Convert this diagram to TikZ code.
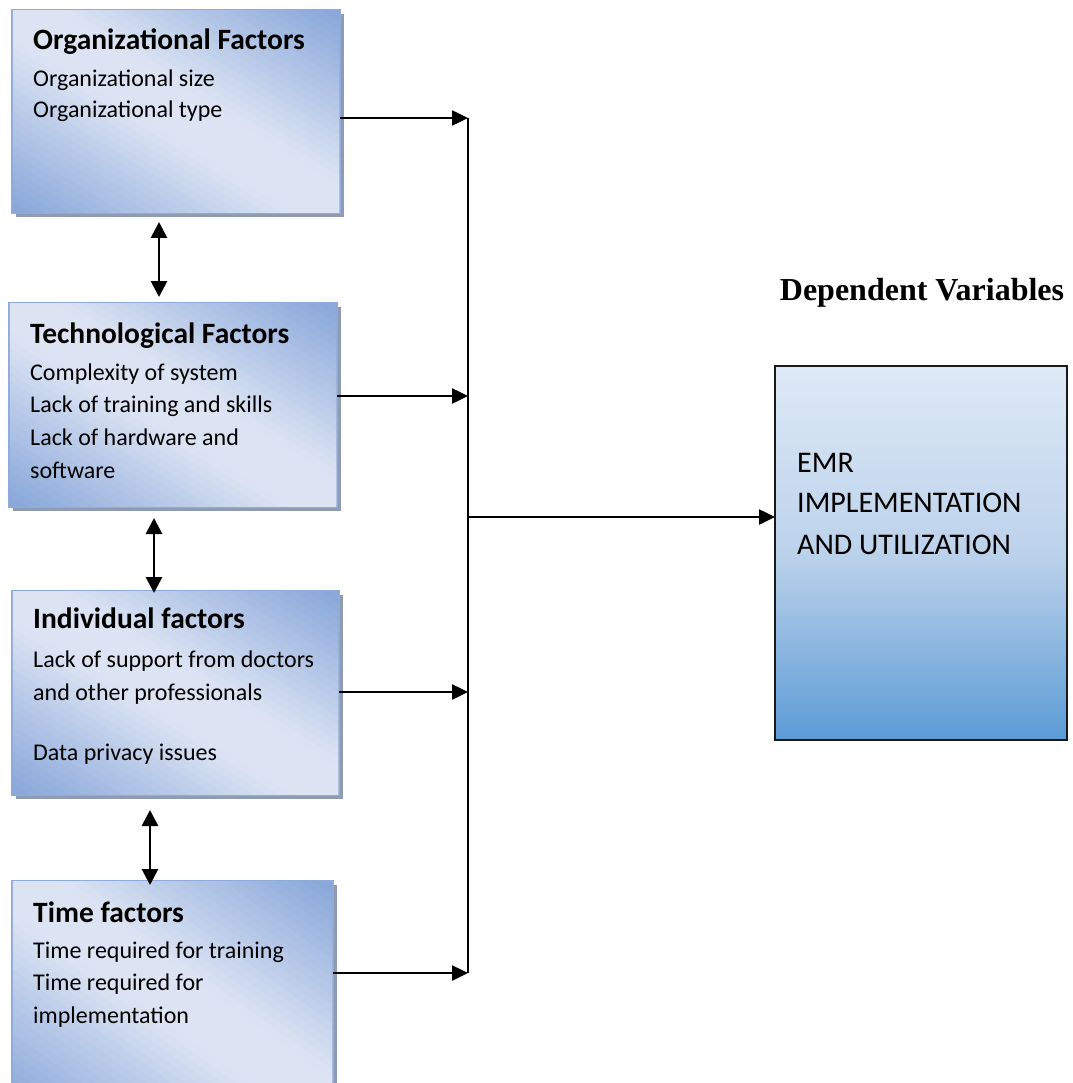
\documentclass[tikz,border=0pt]{standalone}
\usepackage{fontspec}
\setmainfont{Carlito}
\newfontfamily\titlefont{Liberation Serif}
\usetikzlibrary{arrows.meta,shadows,calc}
\definecolor{boxdark}{HTML}{8AA8DA}
\definecolor{boxlight}{HTML}{DCE4F3}
\definecolor{boxborder}{HTML}{8EABDC}
\definecolor{shadowc}{HTML}{8F9BB1}
\definecolor{emrtop}{HTML}{DEE9F6}
\definecolor{emrmid}{HTML}{BCD2EB}
\definecolor{emrbot}{HTML}{5B9BD5}
\tikzset{
  factorbox/.style={anchor=north west, draw=boxborder, line width=1.5pt, fill=boxlight,
    general shadow={fill=shadowc, draw=none, shadow xshift=4pt, shadow yshift=-4pt},
    inner sep=0pt, outer sep=0pt},
  emrbox/.style={anchor=north west, draw=black!90, line width=1.3pt,
    top color=emrtop, bottom color=emrbot, middle color=emrmid,
    inner sep=0pt, outer sep=0pt},
  headtxt/.style={anchor=base west, inner sep=0pt, font=\fontsize{29.5}{29.5}\selectfont\bfseries},
  bodytxt/.style={anchor=base west, inner sep=0pt, font=\fontsize{24}{24}\selectfont},
  emrtxt/.style={anchor=base west, inner sep=0pt, font=\fontsize{30}{30}\selectfont},
  titletxt/.style={anchor=base, inner sep=0pt, font=\fontsize{32}{32}\selectfont\titlefont\bfseries},
  arr/.style={line width=2.5pt, -{Triangle[length=16pt,width=15pt]}},
  darr/.style={line width=2.8pt, {Triangle[length=16pt,width=16pt]}-{Triangle[length=16pt,width=16pt]}},
  busline/.style={line width=1.5pt}
}
% diagonal gradient inside a named box: #1 node, #2 width, #3 height
\newcommand{\diaggrad}[3]{%
  \begin{scope}
    \clip ([shift={(0.75pt,-0.75pt)}]#1.north west) rectangle ([shift={(-0.75pt,0.75pt)}]#1.south east);
    \begin{scope}[shift={(#1.north west)}, x=#2pt, y=-#3pt]
      \foreach \i in {0,...,54}{%
        \pgfmathsetmacro{\sa}{-1.1+\i*0.04}%
        \pgfmathsetmacro{\sb}{\sa+0.046}%
        \pgfmathsetmacro{\pc}{max(0,min(100,100*(1-(abs(\sa+0.02)-0.14)/0.82)))}%
        \fill[boxlight!\pc!boxdark] (\sa-1,-1) -- (\sa+2,2) -- (\sb+2,2) -- (\sb-1,-1) -- cycle;
      }
    \end{scope}
  \end{scope}
}
\begin{document}
\begin{tikzpicture}[x=1pt,y=-1pt]
\useasboundingbox (0,0) rectangle (1072,1083);
\clip (0,0) rectangle (1072,1083);
\fill[white] (0,0) rectangle (1072,1083);

% factor boxes
\node[factorbox, minimum width=328, minimum height=203] (b1) at (12,10) {};
\node[factorbox, minimum width=328, minimum height=204] (b2) at (9,303) {};
\node[factorbox, minimum width=327, minimum height=204] (b3) at (12,591) {};
\node[factorbox, minimum width=321, minimum height=230] (b4) at (12,881) {};
\diaggrad{b1}{328}{203}
\diaggrad{b2}{328}{204}
\diaggrad{b3}{327}{204}
\diaggrad{b4}{321}{230}

% texts box 1
\node[headtxt] (h1) at (33,50) {Organizational Factors};
\node[bodytxt] (t11) at (33,87) {Organizational size};
\node[bodytxt] (t12) at (33,118) {Organizational type};
% box 2
\node[headtxt] (h2) at (30,343) {Technological Factors};
\node[bodytxt] (t21) at (30,380) {Complexity of system};
\node[bodytxt] (t22) at (30,412) {Lack of training and skills};
\node[bodytxt] (t23) at (30,445) {Lack of hardware and};
\node[bodytxt] (t24) at (30,478) {software};
% box 3
\node[headtxt] (h3) at (33,628) {Individual factors};
\node[bodytxt] (t31) at (33,667) {Lack of support from doctors};
\node[bodytxt] (t32) at (33,700) {and other professionals};
\node[bodytxt] (t33) at (33,760) {Data privacy issues};
% box 4
\node[headtxt] (h4) at (33,922) {Time factors};
\node[bodytxt] (t41) at (33,958) {Time required for training};
\node[bodytxt] (t42) at (33,990) {Time required for};
\node[bodytxt] (t43) at (33,1023) {implementation};

% dependent variable
\node[titletxt] (title) at (922,300) {Dependent Variables};
\node[emrbox, minimum width=292, minimum height=374] (emr) at (775,366) {};
\node[emrtxt] (e1) at (797,472) {EMR};
\node[emrtxt] (e2) at (797,512) {IMPLEMENTATION};
\node[emrtxt] (e3) at (797,554) {AND UTILIZATION};

% bus
\coordinate (j1) at (468,118);
\coordinate (j2) at (468,396);
\coordinate (j3) at (468,692);
\coordinate (j4) at (468,973);
\coordinate (jm) at (468,517);
\draw[busline] (j1) -- (j4);
\draw[arr] (b1.east |- j1) -- (j1);
\draw[arr] (b2.east |- j2) -- (j2);
\draw[arr] (b3.east |- j3) -- (j3);
\draw[arr] (b4.east |- j4) -- (j4);
\draw[arr] (jm) -- (emr.west |- jm);

% bidirectional arrows
\coordinate (d1) at (159,0);
\coordinate (d2) at (154,0);
\coordinate (d3) at (150,0);
\draw[darr] ($(b1.south -| d1)+(0,9)$) -- ($(b2.north -| d1)+(0,-6)$);
\draw[darr] ($(b2.south -| d2)+(0,11)$) -- ($(b3.north -| d2)+(0,2)$);
\draw[darr] ($(b3.south -| d3)+(0,15)$) -- ($(b4.north -| d3)+(0,4)$);
\end{tikzpicture}
\end{document}
